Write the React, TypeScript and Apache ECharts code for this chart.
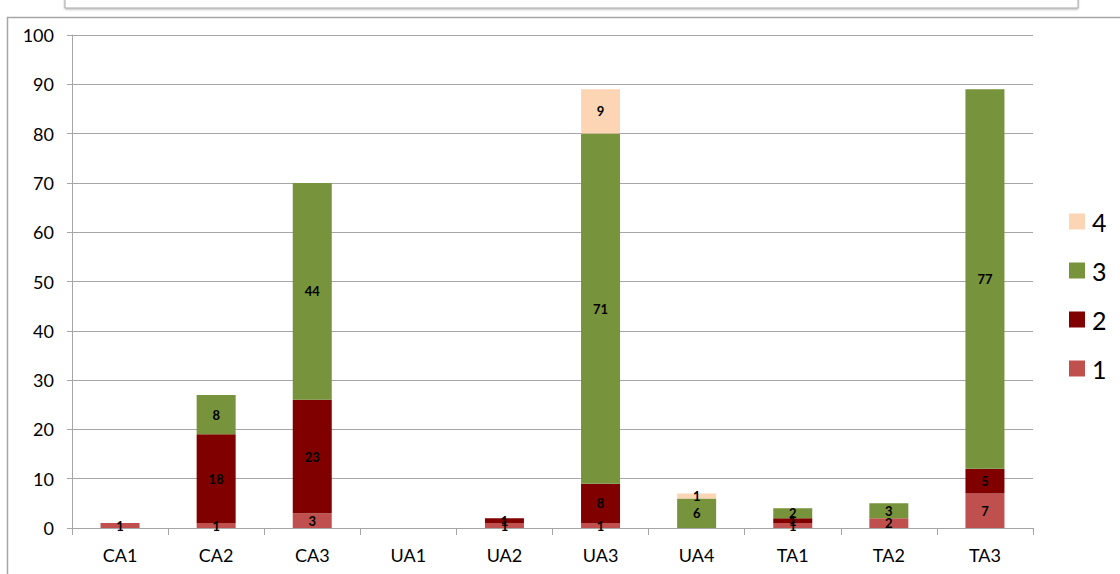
import React, { useEffect, useRef } from "react";
import * as echarts from "echarts";

const categories = ["CA1", "CA2", "CA3", "UA1", "UA2", "UA3", "UA4", "TA1", "TA2", "TA3"];
const series1 = [1, 1, 3, 0, 1, 1, 0, 1, 2, 7];
const series2 = [0, 18, 23, 0, 1, 8, 0, 1, 0, 5];
const series3 = [0, 8, 44, 0, 0, 71, 6, 2, 3, 77];
const series4 = [0, 0, 0, 0, 0, 9, 1, 0, 0, 0];
const seriesNames = ["1", "2", "3", "4"];
const colors = ["#C0504D", "#800000", "#77933C", "#FCD5B5"];
const yTicks = { min: 0, max: 100, interval: 10 };

const FONT = "Lato, 'Open Sans', sans-serif";

export default function App() {
  const ref = useRef<HTMLDivElement>(null);
  useEffect(() => {
    if (!ref.current) return;
    const chart = echarts.init(ref.current, null, { renderer: "svg" });
    const data = [series1, series2, series3, series4];
    chart.setOption({
      animation: false,
      backgroundColor: "#ffffff",
      textStyle: { fontFamily: FONT },
      grid: { left: 72, right: 87, top: 35, bottom: 46, containLabel: false },
      legend: {
        data: ["4", "3", "2", "1"],
        orient: "vertical",
        left: 1064,
        top: 204,
        itemWidth: 16,
        itemHeight: 16,
        itemGap: 24,
        icon: "rect",
        textStyle: { fontSize: 25, color: "#000", fontFamily: FONT, padding: [0, 0, 0, 2] },
      },
      xAxis: {
        type: "category",
        data: categories,
        axisLine: { lineStyle: { color: "#a6a6a6", width: 1 } },
        axisTick: { show: true, length: 7, interval: 0, lineStyle: { color: "#a6a6a6" } },
        axisLabel: { fontSize: 18, color: "#000", margin: 18, fontFamily: FONT },
      },
      yAxis: {
        type: "value",
        min: yTicks.min,
        max: yTicks.max,
        interval: yTicks.interval,
        axisLine: { show: true, lineStyle: { color: "#a6a6a6", width: 1 } },
        axisTick: { show: true, length: 5, lineStyle: { color: "#a6a6a6" } },
        axisLabel: { fontSize: 18, color: "#000", margin: 18, fontFamily: FONT },
        splitLine: { lineStyle: { color: "#a6a6a6", width: 1 } },
      },
      graphic: [
        {
          type: "rect",
          shape: { x: 65, y: -10, width: 1013, height: 18 },
          style: { fill: "#fff", stroke: "#a6a6a6", lineWidth: 1, shadowBlur: 2, shadowColor: "rgba(0,0,0,0.3)", shadowOffsetY: 1 },
        },
        {
          type: "polyline",
          shape: { points: [[7.5, 580], [7.5, 17.5], [1125, 17.5]] },
          style: { fill: "none", stroke: "#a6a6a6", lineWidth: 1.5 },
        },
      ],
      series: data.map((d, i) => ({
        name: seriesNames[i],
        type: "bar",
        stack: "total",
        data: d,
        barWidth: 39,
        itemStyle: { color: colors[i] },
        label: {
          show: true,
          position: "inside",
          color: "#000",
          fontWeight: "bold",
          fontSize: 13,
          fontFamily: FONT,
          formatter: (p: any) => (p.value ? String(p.value) : ""),
        },
      })),
    });
    return () => chart.dispose();
  }, []);
  return (
    <div
      ref={ref}
      style={{ position: "fixed", left: 0, top: 0, width: 1120, height: 574 }}
    />
  );
}
